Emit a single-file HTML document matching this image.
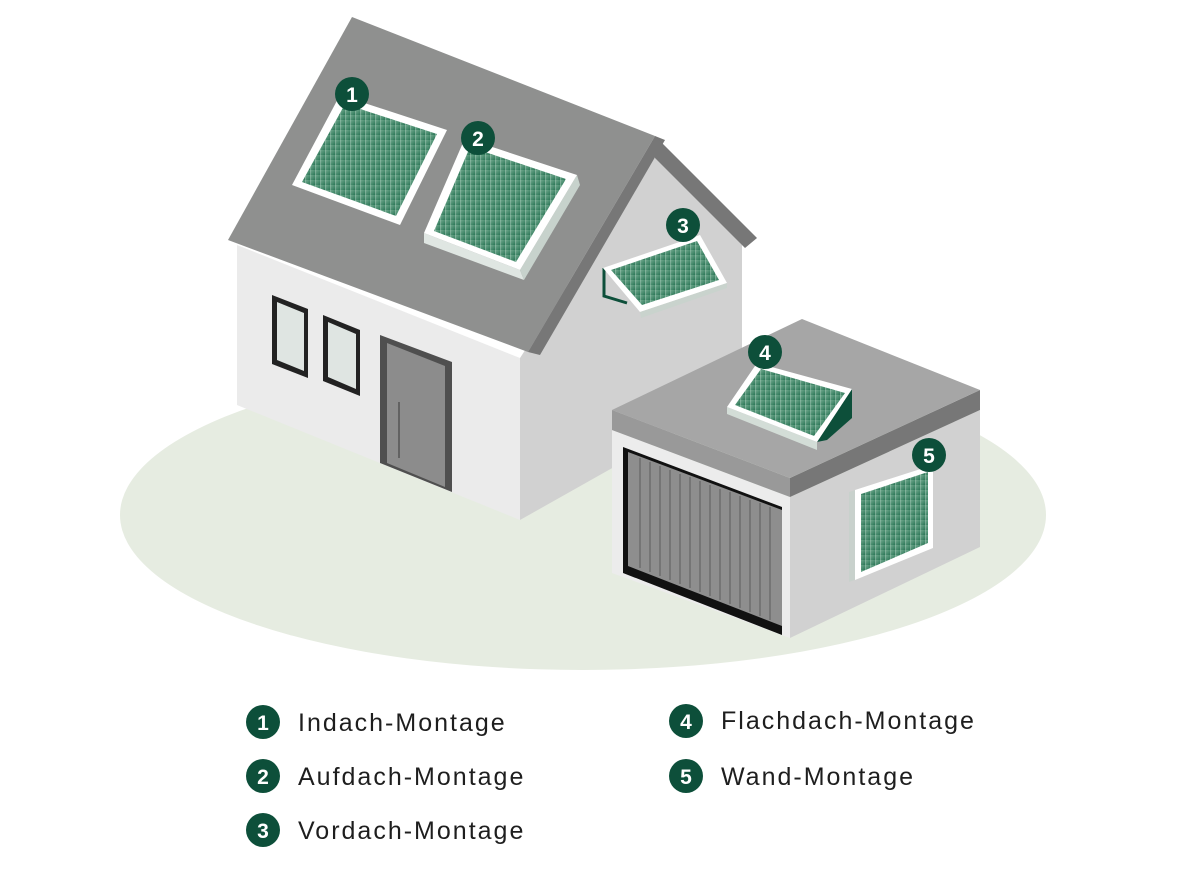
<!DOCTYPE html>
<html><head><meta charset="utf-8"><style>
body{margin:0;background:#fff;width:1201px;height:879px;overflow:hidden}
svg{display:block}
.t{font-family:"Liberation Sans",sans-serif;font-size:25px;letter-spacing:2px;fill:#1e1e1e}
.n{font-family:"Liberation Sans",sans-serif;font-size:21px;font-weight:bold;fill:#fff;text-anchor:middle}
</style></head><body>
<svg width="1201" height="879" viewBox="0 0 1201 879">
<defs>
<linearGradient id="g" x1="0" y1="0" x2="1" y2="1"><stop offset="0" stop-color="#76ad93"/><stop offset="1" stop-color="#2a7555"/></linearGradient>
<pattern id="st" width="5" height="5" patternUnits="userSpaceOnUse"><rect width="5" height="5" fill="url(#g)"/><line x1="0" y1="0" x2="0" y2="5" stroke="#a9ccbb" stroke-width="0.8"/></pattern>
</defs>
<ellipse cx="583" cy="515" rx="463" ry="155" fill="#e6ece1"/>
<polygon points="237,245 520,358 520,520 237,405" fill="#ebebeb"/>
<polygon points="520,358 655,150 742,245 742,395 520,520" fill="#d1d1d1"/>
<polygon points="352,17 655,136 528,352 228,240" fill="#8f908f"/>
<polygon points="655,136 665,140 540,355 528,352" fill="#777"/>
<polygon points="655,136 757,238 745,248 655,158" fill="#777"/>
<polygon points="272,295 308,309 308,378 272,364" fill="#222"/>
<polygon points="277,302 304,313 304,371 277,360" fill="#dfe5e2"/>
<polygon points="323,315 360,330 360,396 323,381" fill="#222"/>
<polygon points="328,322 356,334 356,389 328,377" fill="#dfe5e2"/>
<polygon points="380,335 452,362 452,492 380,463" fill="#4f4f4f"/>
<polygon points="387,343 445,366 445,487 387,463" fill="#8c8c8c"/>
<line x1="399" y1="402" x2="399" y2="458" stroke="#555" stroke-width="1.5"/>
<polygon points="340,95 447,130 400,225 292,185" fill="#fff"/>
<polygon points="345,104 437,134 396,216 302,182" fill="url(#st)"/>
<polygon points="424,233 520,270 524,280 424,243" fill="#dfe6e2"/>
<polygon points="520,270 577,175 580,185 524,280" fill="#c7d2cc"/>
<polygon points="465,138 577,175 520,270 424,233" fill="#fff"/>
<polygon points="470,147 566,179 516,262 434,231" fill="url(#st)"/>
<polyline points="604,268 604,296 627,303" fill="none" stroke="#0d4f3a" stroke-width="3"/>
<polygon points="603,268 700,235 727,283 640,312" fill="#fff"/>
<polygon points="640,312 727,283 727,288 641,318" fill="#c9d3cd"/>
<polygon points="611,270 697,241 719,280 642,305" fill="url(#st)"/>
<polygon points="612,430 790,497 790,638 612,573" fill="#ececec"/>
<polygon points="790,497 980,410 980,547 790,638" fill="#d1d1d1"/>
<polygon points="612,410 790,478 790,497 612,430" fill="#999"/>
<polygon points="790,478 980,390 980,410 790,497" fill="#777"/>
<polygon points="612,410 802,319 980,390 790,478" fill="#a6a6a6"/>
<polygon points="623,447 782,507 782,635 623,573" fill="#111"/>
<polygon points="628,452 782,510 782,626 628,566" fill="#8e8e8e"/>
<g stroke="#6d6d6d" stroke-width="1.5">
<line x1="640" y1="458" x2="640" y2="568"/><line x1="650" y1="462" x2="650" y2="572"/><line x1="660" y1="466" x2="660" y2="576"/><line x1="670" y1="470" x2="670" y2="580"/><line x1="680" y1="474" x2="680" y2="584"/><line x1="690" y1="477" x2="690" y2="588"/><line x1="700" y1="481" x2="700" y2="592"/><line x1="710" y1="485" x2="710" y2="596"/><line x1="720" y1="489" x2="720" y2="600"/><line x1="730" y1="492" x2="730" y2="604"/><line x1="740" y1="496" x2="740" y2="608"/><line x1="750" y1="500" x2="750" y2="612"/><line x1="760" y1="503" x2="760" y2="616"/><line x1="770" y1="507" x2="770" y2="620"/>
</g>
<polygon points="817,442 852,389 852,418 827,440" fill="#0d4f3a"/>
<polygon points="727,407 817,442 817,450 727,414" fill="#d3ddd7"/>
<polygon points="757,363 852,389 817,442 727,407" fill="#fff"/>
<polygon points="761,369 845,393 814,436 735,405" fill="url(#st)"/>
<polygon points="849,492 855,490 855,580 849,582" fill="#c8d1cc"/>
<polygon points="855,490 933,465 933,548 855,580" fill="#fff"/>
<polygon points="861,494 928,472 928,543 861,572" fill="url(#st)"/>
<g fill="#0d4f3a">
<circle cx="352" cy="94" r="17"/><circle cx="478" cy="138" r="17"/><circle cx="683" cy="225" r="17"/><circle cx="765" cy="352" r="17"/><circle cx="929" cy="455" r="17"/>
<circle cx="263" cy="722" r="17"/><circle cx="263" cy="776" r="17"/><circle cx="263" cy="830" r="17"/><circle cx="686" cy="721" r="17"/><circle cx="686" cy="776" r="17"/>
</g>
<text class="n" x="352" y="102">1</text><text class="n" x="478" y="146">2</text><text class="n" x="683" y="233">3</text><text class="n" x="765" y="360">4</text><text class="n" x="929" y="463">5</text>
<text class="n" x="263" y="730">1</text><text class="n" x="263" y="784">2</text><text class="n" x="263" y="838">3</text><text class="n" x="686" y="729">4</text><text class="n" x="686" y="784">5</text>
<text class="t" x="298" y="731">Indach-Montage</text>
<text class="t" x="298" y="785">Aufdach-Montage</text>
<text class="t" x="298" y="839">Vordach-Montage</text>
<text class="t" x="721" y="729">Flachdach-Montage</text>
<text class="t" x="721" y="785">Wand-Montage</text>
</svg>
</body></html>
